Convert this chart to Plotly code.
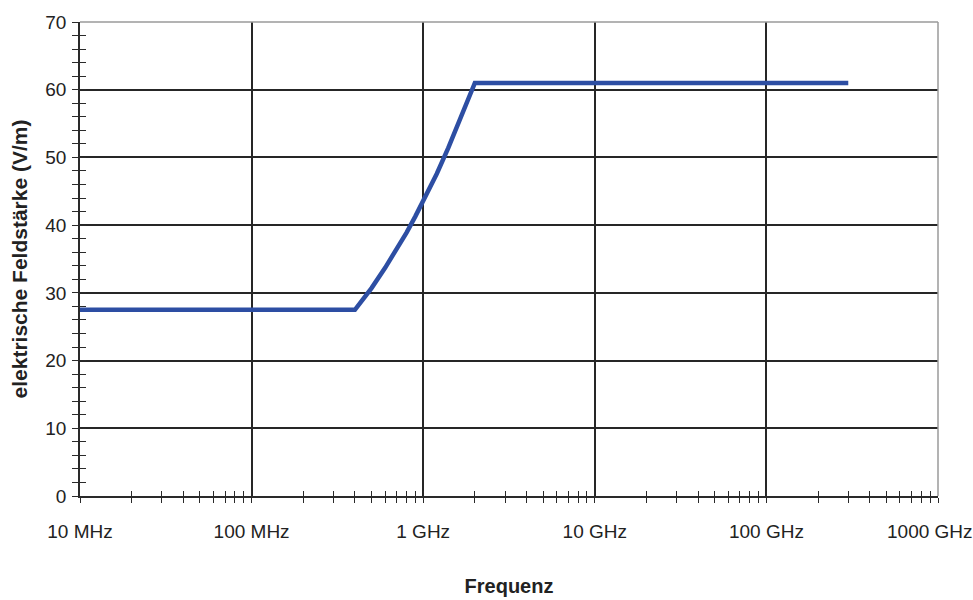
import plotly.graph_objects as go

# Reference level of the electric field strength versus frequency (MHz)
freq_mhz = [10, 400, 450, 500, 600, 700, 800, 900, 1000, 1200, 1400, 1600, 1800, 2000, 300000]
e_field = [27.5, 27.5, 29.2, 30.7, 33.7, 36.4, 38.9, 41.3, 43.5, 47.6, 51.4, 55.0, 58.3, 61.0, 61.0]

# Axis ticks
x_ticks = [10, 100, 1000, 10000, 100000, 1000000]
x_labels = ["10 MHz", "100 MHz", "1 GHz", "10 GHz", "100 GHz", "1000 GHz"]
y_ticks = [0, 10, 20, 30, 40, 50, 60, 70]

minor_x = [m * d for d in x_ticks[:-1] for m in range(2, 10)]

FONT = "Liberation Sans, Arial, sans-serif"
GRID = "#262626"
AXIS = "#2a2a2a"
TICK_SIZE = 19

fig = go.Figure()
fig.add_trace(go.Scatter(
    x=freq_mhz, y=e_field, mode="lines",
    line=dict(color="#2D4EA3", width=4.5),
    hoverinfo="x+y", showlegend=False,
))

common_x = dict(type="log", range=[1, 6], tickvals=x_ticks)
common_y = dict(range=[0, 70], tickvals=y_ticks)

# the last decade label is pulled inward so it stays inside the page
shown_labels = x_labels[:-1] + [""]

fig.update_layout(
    width=973, height=600,
    margin=dict(l=80, r=35, t=22, b=104),
    paper_bgcolor="white", plot_bgcolor="white",
    font=dict(family=FONT, color="#222222", size=TICK_SIZE),
    xaxis=dict(
        **common_x, ticktext=shown_labels,
        showgrid=True, gridcolor=GRID, gridwidth=1.6,
        showline=True, linecolor=AXIS, linewidth=1.5,
        ticks="outside", ticklen=5, tickcolor=AXIS, tickwidth=1,
        minor=dict(tickvals=minor_x, ticks="outside", ticklen=5, tickcolor=AXIS,
                   tickwidth=1, showgrid=False),
        tickfont=dict(size=TICK_SIZE), ticklabelstandoff=12,
        title=dict(text="<b>Frequenz</b>", font=dict(size=20), standoff=38),
        zeroline=False, automargin=False,
    ),
    xaxis2=dict(
        **common_x, overlaying="x", anchor="y", side="bottom",
        showgrid=False, showline=False, showticklabels=False,
        ticks="inside", ticklen=5, tickcolor=AXIS, tickwidth=1,
        minor=dict(tickvals=minor_x, ticks="inside", ticklen=5, tickcolor=AXIS,
                   tickwidth=1, showgrid=False),
    ),
    yaxis=dict(
        **common_y,
        showgrid=True, gridcolor=GRID, gridwidth=1.6,
        showline=True, linecolor=AXIS, linewidth=1.5,
        ticks="outside", ticklen=6, tickcolor=AXIS, tickwidth=1,
        minor=dict(dtick=2, ticks="outside", ticklen=6, tickcolor=AXIS,
                   tickwidth=1, showgrid=False),
        tickfont=dict(size=TICK_SIZE), ticklabelstandoff=2,
        title=dict(text="<b>elektrische Feldstärke (V/m)</b>", font=dict(size=21), standoff=12),
        zeroline=False, automargin=False,
    ),
    yaxis2=dict(
        **common_y, overlaying="y", anchor="x", side="left",
        showgrid=False, showline=False, showticklabels=False,
        ticks="inside", ticklen=6, tickcolor=AXIS, tickwidth=1,
        minor=dict(dtick=2, ticks="inside", ticklen=6, tickcolor=AXIS,
                   tickwidth=1, showgrid=False),
    ),
    shapes=[
        # light frame on the top and right edges of the plot area
        dict(type="line", xref="paper", yref="paper", x0=0, x1=1, y0=1, y1=1,
             line=dict(color="#9a9a9a", width=1.5), layer="above"),
        dict(type="line", xref="paper", yref="paper", x0=1, x1=1, y0=0, y1=1,
             line=dict(color="#9a9a9a", width=1.5), layer="above"),
    ],
    annotations=[
        dict(text=x_labels[-1], x=6, xref="x", y=0, yref="paper",
             xanchor="center", yanchor="middle", xshift=-8, yshift=-35,
             showarrow=False, font=dict(size=TICK_SIZE, color="#222222")),
    ],
)

# invisible helper trace so the overlay axes (crossing tick marks) are drawn
fig.add_trace(go.Scatter(x=[freq_mhz[0]], y=[e_field[0]], xaxis="x2", yaxis="y2",
                         mode="markers", marker=dict(opacity=0), hoverinfo="skip",
                         showlegend=False))

fig.write_html("out.html")
